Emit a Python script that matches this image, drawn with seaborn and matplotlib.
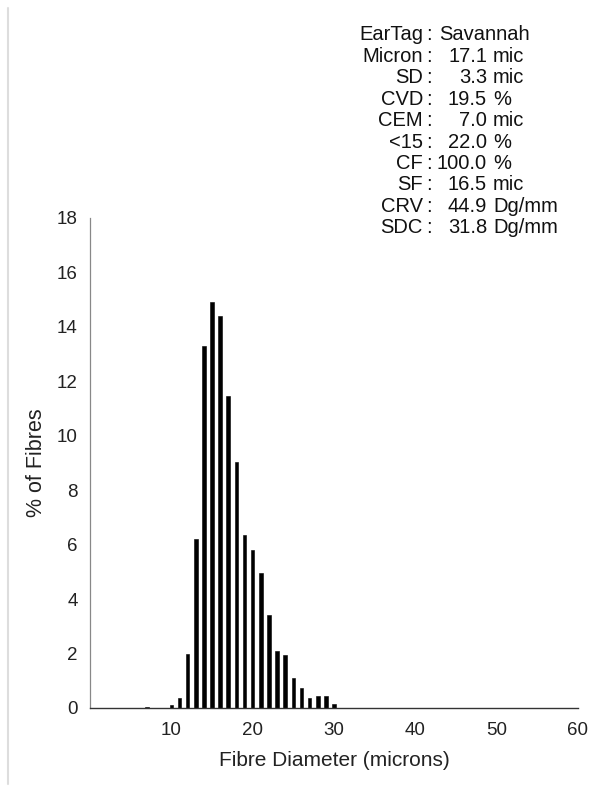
import numpy as np
import pandas as pd
import seaborn as sns
import matplotlib.pyplot as plt

# fibre diameter histogram (microns -> % of fibres)
diameter = [7, 10, 11, 12, 13, 14, 15, 16, 17, 18, 19, 20, 21, 22, 23, 24, 25, 26, 27, 28, 29, 30]
pct_fibres = [0.05, 0.1, 0.35, 2.0, 6.2, 13.3, 14.9, 14.4, 11.45, 9.05, 6.35, 5.8, 4.95, 3.4, 2.1,
              1.95, 1.1, 0.75, 0.38, 0.45, 0.45, 0.15]

# stats box
stat_names = ["EarTag", "Micron", "SD", "CVD", "CEM", "<15", "CF", "SF", "CRV", "SDC"]
stat_values = ["", "17.1", "3.3", "19.5", "7.0", "22.0", "100.0", "16.5", "44.9", "31.8"]
stat_units = ["", "mic", "mic", "%", "mic", "%", "%", "mic", "Dg/mm", "Dg/mm"]
ear_tag = "Savannah"

df = pd.DataFrame({"diameter": diameter, "pct": pct_fibres})

sns.set_style("white")
plt.rcParams["font.family"] = ["Liberation Sans", "DejaVu Sans"]

fig = plt.figure(figsize=(5.91, 8.0), dpi=100)
ax = fig.add_axes([90 / 591, 1 - 708 / 800, 488 / 591, 490 / 800])

sns.barplot(data=df, x="diameter", y="pct", native_scale=True, width=0.45,
            color="black", errorbar=None, ax=ax, saturation=1,
            edgecolor="black", linewidth=0.4)

ax.set_xlim(0, 60)
ax.set_ylim(0, 18)
ax.set_xticks([10, 20, 30, 40, 50, 60])
ax.set_yticks(np.arange(0, 19, 2))
ax.tick_params(axis="both", labelsize=13.5, length=3, width=0.8, color="#999999",
               direction="out", labelcolor="#222222")
ax.tick_params(axis="x", pad=7)
ax.tick_params(axis="y", pad=6)
sns.despine(ax=ax)
ax.spines["left"].set_color("#888888")
ax.spines["bottom"].set_color("#333333")
ax.spines["left"].set_linewidth(0.9)
ax.spines["bottom"].set_linewidth(1.0)

ax.set_xlabel("Fibre Diameter (microns)", fontsize=15, color="#222222", labelpad=9)
ax.set_ylabel("% of Fibres", fontsize=15.5, color="#222222", labelpad=7)

# stats text block
y0 = 1 - 35 / 800
dy = 21.4 / 800
fs = 14.5
for i, name in enumerate(stat_names):
    yy = y0 - i * dy
    fig.text(423 / 591, yy, name, ha="right", va="center", fontsize=fs, color="#111111")
    fig.text(429 / 591, yy, ":", ha="center", va="center", fontsize=fs, color="#111111")
    if i == 0:
        fig.text(439 / 591, yy, ear_tag, ha="left", va="center", fontsize=fs, color="#111111")
    else:
        fig.text(487 / 591, yy, stat_values[i], ha="right", va="center", fontsize=fs, color="#111111")
        fig.text(493 / 591, yy, stat_units[i], ha="left", va="center", fontsize=fs, color="#111111")

# faint scan edge on the left
fig.add_artist(plt.Line2D([8 / 591, 8 / 591], [0.02, 0.99], color="#dddddd", lw=1.5))

fig.savefig("out.png", dpi=100)
